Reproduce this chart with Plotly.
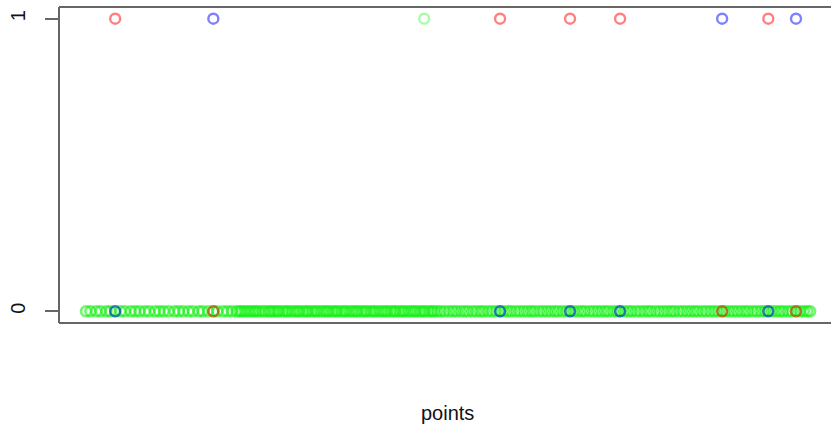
import plotly.graph_objects as go

# ---- data ----
green0_x = [
    1.0, 1.9, 3.1, 4.0, 5.2, 6.0, 7.0, 8.1, 9.0, 10.2, 11.1, 12.0, 13.1, 14.0,
    15.2, 16.1, 17.0, 18.0, 19.2, 20.1, 21.0, 22.1, 23.0, 24.2, 25.0, 26.1,
    27.2, 28.0, 29.2, 30.1, 31.0, 32.0,
    32.6, 33.1, 33.7, 34.3, 34.9, 35.5, 36.0, 36.6, 37.3, 37.9, 38.6, 39.1,
    39.7, 40.3, 40.8, 41.5, 42.1, 42.6, 43.3, 43.9, 44.5, 45.0, 45.7, 46.3,
    46.8, 47.5, 48.1, 48.6, 49.3, 49.9, 50.5, 51.0, 51.7, 52.3, 52.8, 53.5,
    54.1, 54.6, 55.3, 55.9, 56.5, 57.0, 57.7, 58.3, 58.8, 59.5, 60.1, 60.6,
    61.3, 61.9, 62.5, 63.0, 63.7, 64.3, 64.8, 65.5, 66.1, 66.6, 67.3, 67.9,
    68.5, 69.0, 69.7, 70.3, 70.8, 71.5, 72.1, 72.6, 73.3,
    74.0, 74.8, 75.7, 76.5, 77.2, 78.1, 78.9, 79.6, 80.5, 81.3, 82.1, 82.8,
    83.7, 84.5, 85.3, 86.2, 87.0, 87.8, 88.5, 89.4, 90.2, 91.0, 91.8, 92.6,
    93.3, 94.2, 95.0, 95.8, 96.6, 97.4, 98.1, 99.0, 99.8, 100.6, 101.4, 102.2,
    103.0, 103.7, 104.6, 105.4, 106.2, 107.0, 107.8, 108.5, 109.4, 110.2,
    110.9, 111.8, 112.6, 113.3, 114.2, 115.0, 115.8, 116.6, 117.3, 118.2,
    119.0, 119.8, 120.6, 121.4, 122.1, 123.0, 123.8, 124.6, 125.4, 126.2,
    126.9, 127.8, 128.6, 129.4, 130.2, 131.0, 131.9, 132.6, 133.4, 134.2,
    135.0, 135.8, 136.6, 137.3, 138.2, 139.0, 139.8, 140.6, 141.4, 142.2,
    143.0, 143.8, 144.5, 145.4, 146.2, 147.1, 147.9, 148.7, 149.4, 150.0,
]
green1_x = [70.6]

red_x = [7.0, 27.2, 86.2, 100.6, 110.9, 131.9, 141.4, 147.1]
red_y = [1, 0, 1, 1, 1, 0, 1, 0]

blue_x = [7.0, 27.2, 86.2, 100.6, 110.9, 131.9, 141.4, 147.1]
blue_y = [0, 1, 0, 0, 0, 1, 0, 1]

y_tick_vals = [0, 1]
y_tick_text = ["0", "1"]
x_label = "points"

# ---- figure ----
W, H = 831, 428
ml, mr, mt, mb = 59, 0, 7, 105

def mk(x, y, color, width=2.4):
    return go.Scatter(
        x=x, y=y, mode="markers",
        marker=dict(symbol="circle-open", size=10, color=color,
                    line=dict(width=width, color=color)),
        hoverinfo="skip", showlegend=False,
    )

fig = go.Figure()
fig.add_trace(mk(green0_x, [0] * len(green0_x), "rgba(0,240,0,0.55)", 2.6))
fig.add_trace(mk(green1_x, [1] * len(green1_x), "rgba(0,240,0,0.33)"))
fig.add_trace(mk(red_x, red_y, "rgba(255,0,0,0.5)"))
fig.add_trace(mk(blue_x, blue_y, "rgba(0,0,255,0.5)"))

line_col = "#666666"
for x0, y0, x1, y1 in [(0, 0, 0, 1), (0, 1, 1, 1), (0, 0, 1, 0)]:
    fig.add_shape(type="line", xref="paper", yref="paper",
                  x0=x0, y0=y0, x1=x1, y1=y1,
                  line=dict(color=line_col, width=2))

fig.add_annotation(text=x_label, xref="paper", yref="paper",
                   x=(447 - ml) / (W - ml - mr), y=0, yshift=-90,
                   showarrow=False, xanchor="center", yanchor="middle",
                   font=dict(family="Liberation Sans, Arial", size=20, color="#111"))

fig.update_layout(
    width=W, height=H,
    margin=dict(l=ml, r=mr, t=mt, b=mb, pad=0),
    paper_bgcolor="white", plot_bgcolor="white",
    xaxis=dict(range=[-4.56, 154.3], showgrid=False, zeroline=False,
               showticklabels=False, ticks="", showline=False),
    yaxis=dict(range=[-0.04, 1.04], showgrid=False, zeroline=False,
               tickvals=y_tick_vals, ticktext=y_tick_text,
               ticks="outside", ticklen=13, tickwidth=2, tickcolor=line_col,
               tickangle=-90, ticklabelstandoff=12,
               tickfont=dict(family="Liberation Sans, Arial", size=20, color="#111"),
               showline=False),
)

fig.write_html("out.html")
